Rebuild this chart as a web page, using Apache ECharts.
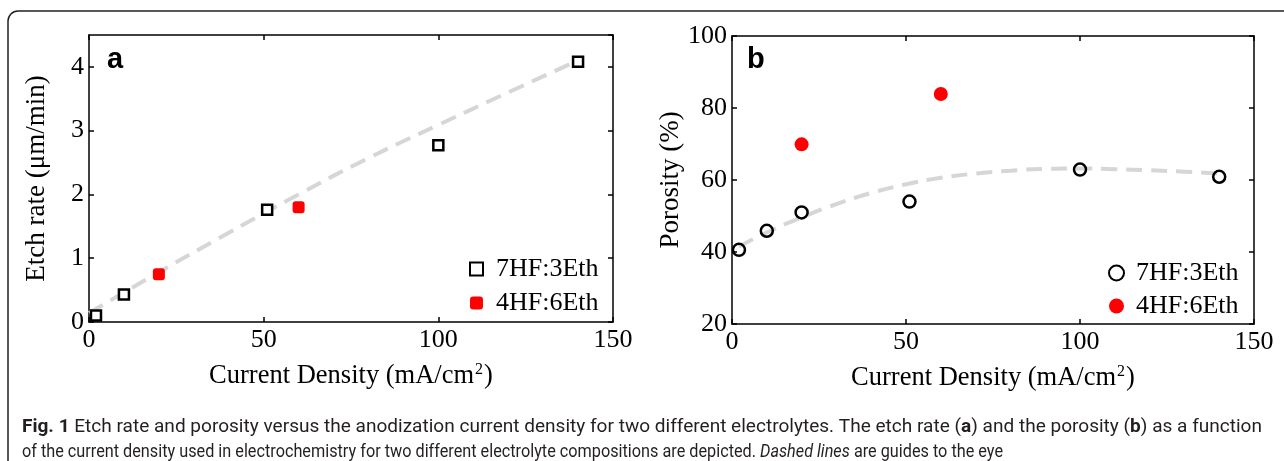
<!DOCTYPE html>
<html><head><meta charset="utf-8">
<script src="https://cdn.jsdelivr.net/npm/echarts@6/dist/echarts.min.js"></script>
<style>html,body{margin:0;padding:0;background:#fff}#c{width:1284px;height:461px}</style>
</head><body><div id="c"></div>
<script>
// ---- Data ----
const seriesNames = ['7HF:3Eth', '4HF:6Eth'];
// Panel a: etch rate (µm/min)
const etchX_7HF = [2, 10, 51, 100, 140];
const etchY_7HF = [0.10, 0.43, 1.76, 2.77, 4.08];
const etchX_4HF = [20, 60];
const etchY_4HF = [0.75, 1.80];
const etchGuideX = [0, 20, 40, 60, 80, 100, 120, 140];
const etchGuideY = [0.14, 0.78, 1.40, 2.00, 2.57, 3.09, 3.60, 4.10];
// Panel b: porosity (%)
const poroX_7HF = [2, 10, 20, 51, 100, 140];
const poroY_7HF = [40.6, 45.9, 51.0, 54.0, 62.9, 60.9];
const poroX_4HF = [20, 60];
const poroY_4HF = [69.9, 83.9];
const poroGuideX = [2, 10, 20, 30, 40, 50, 60, 70, 80, 90, 100, 110, 120, 130, 142];
const poroGuideY = [41.5, 45.4, 49.6, 53.3, 56.4, 58.8, 60.6, 61.8, 62.6, 63.1, 63.2, 63.0, 62.7, 62.3, 61.7];
// Axis ranges / ticks
const xTicks = {min: 0, max: 150, interval: 50};
const etchTicks = {min: 0, max: 4.5, interval: 1};
const poroTicks = {min: 20, max: 100, interval: 20};
// Caption text
const captionLine1 = [['b', 'Fig. 1'], ['n', ' Etch rate and porosity versus the anodization current density for two different electrolytes. The etch rate ('], ['b', 'a'], ['n', ') and the porosity ('], ['b', 'b'], ['n', ') as a function']];
const captionLine2 = [['n', 'of the current density used in electrochemistry for two different electrolyte compositions are depicted. '], ['i', 'Dashed lines'], ['n', ' are guides to the eye']];

const zip = (xs, ys) => xs.map((x, i) => [x, ys[i]]);
const SERIF = 'Liberation Serif';
const SANS = 'Liberation Sans';
const CAP_FONT = 'Roboto';
const CAP_SIZE = 18.5;
const axisLine = {onZero: false, lineStyle: {color: '#000', width: 1.5}};
const tick = {inside: true, length: 5, lineStyle: {color: '#000', width: 1.5}};
const lbl = {color: '#000', fontFamily: SERIF, fontSize: 26};

// measure caption lines to fit the target widths with a horizontal squeeze
const ctx = document.createElement('canvas').getContext('2d');
function capFont(k) {
  return (k === 'b' ? 'bold ' : k === 'i' ? 'italic ' : '') + CAP_SIZE + 'px ' + CAP_FONT;
}
function lineWidth(parts) {
  return parts.reduce((w, [k, t]) => { ctx.font = capFont(k); return w + ctx.measureText(t).width; }, 0);
}
function richText(parts) {
  return parts.map(([k, t]) => '{' + k + '|' + t + '}').join('');
}
const capRich = {
  n: {fontFamily: CAP_FONT, fontSize: CAP_SIZE, fill: '#231f20'},
  b: {fontFamily: CAP_FONT, fontSize: CAP_SIZE, fontWeight: 'bold', fill: '#231f20'},
  i: {fontFamily: CAP_FONT, fontSize: CAP_SIZE, fontStyle: 'italic', fill: '#231f20'}
};
const sx1 = 1240 / lineWidth(captionLine1);
const sx2 = 981 / lineWidth(captionLine2);

function xAxes(g) {
  return [
    {gridIndex: g, type: 'value', ...xTicks, position: 'bottom', axisLine, axisTick: tick,
     axisLabel: {...lbl, margin: 5}, splitLine: {show: false},
     name: '{t|Current Density (mA/cm}{s|2}{t|)}', nameLocation: 'middle', nameGap: 40,
     nameTextStyle: {rich: {
       t: {fontFamily: SERIF, fontSize: 26.5, color: '#000'},
       s: {fontFamily: SERIF, fontSize: 16, color: '#000', verticalAlign: 'top', padding: [0, 1, 12, 1]}
     }}},
    {gridIndex: g, type: 'value', ...xTicks, position: 'top', axisLine, axisTick: tick,
     axisLabel: {show: false}, splitLine: {show: false}}
  ];
}
function yAxes(g, t, name, gap) {
  return [
    {gridIndex: g, type: 'value', ...t, position: 'left', axisLine, axisTick: tick,
     axisLabel: {...lbl, margin: 5, showMaxLabel: Number.isInteger(t.max / t.interval)},
     splitLine: {show: false},
     name, nameLocation: 'middle', nameGap: gap,
     nameTextStyle: {fontFamily: SERIF, fontSize: 27, color: '#000'}},
    {gridIndex: g, type: 'value', ...t, position: 'right', axisLine, axisTick: tick,
     axisLabel: {show: false}, splitLine: {show: false}}
  ];
}

const guideStyle = {color: '#d6d6d6', width: 4, type: [16, 9]};
const chart = echarts.init(document.getElementById('c'), null, {renderer: 'canvas'});
chart.setOption({
  backgroundColor: '#fff',
  animation: false,
  grid: [
    {left: 89, right: 1284 - 613, top: 35, bottom: 461 - 322},
    {left: 732, right: 1284 - 1254, top: 36, bottom: 461 - 324}
  ],
  xAxis: [...xAxes(0), ...xAxes(1)],
  yAxis: [...yAxes(0, etchTicks, 'Etch rate (μm/min)', 39), ...yAxes(1, poroTicks, 'Porosity (%)', 45)],
  legend: [
    {data: ['a:' + seriesNames[0], 'a:' + seriesNames[1]], orient: 'vertical', left: 464, top: 251,
     itemWidth: 13, itemHeight: 13, itemGap: 8, formatter: n => n.slice(2),
     textStyle: {fontFamily: SERIF, fontSize: 26, color: '#000', lineHeight: 26, padding: [0, 0, 0, 8]}},
    {data: ['b:' + seriesNames[0], 'b:' + seriesNames[1]], orient: 'vertical', left: 1103, top: 255,
     itemWidth: 15, itemHeight: 15, itemGap: 7, formatter: n => n.slice(2),
     textStyle: {fontFamily: SERIF, fontSize: 26, color: '#000', lineHeight: 26, padding: [0, 0, 0, 7]}}
  ],
  graphic: [
    {type: 'rect', shape: {x: 8, y: 11, width: 1400, height: 600, r: 10}, silent: true,
     style: {fill: 'none', stroke: '#222', lineWidth: 1.5}},
    {type: 'text', left: 107, top: 45, style: {text: 'a', fontFamily: SANS, fontWeight: 'bold', fontSize: 29, fill: '#000'}},
    {type: 'text', left: 747, top: 45, style: {text: 'b', fontFamily: SANS, fontWeight: 'bold', fontSize: 29, fill: '#000'}},
    {type: 'text', x: 22, y: 418, scaleX: sx1, style: {text: richText(captionLine1), rich: capRich}},
    {type: 'text', x: 22, y: 443, scaleX: sx2, style: {text: richText(captionLine2), rich: capRich}}
  ],
  series: [
    {type: 'line', name: 'guideA', xAxisIndex: 0, yAxisIndex: 0, data: zip(etchGuideX, etchGuideY),
     smooth: true, symbol: 'none', lineStyle: guideStyle, z: 1, silent: true},
    {type: 'scatter', name: 'a:' + seriesNames[0], xAxisIndex: 0, yAxisIndex: 0, data: zip(etchX_7HF, etchY_7HF),
     symbol: 'rect', symbolSize: 10, itemStyle: {color: '#fff', borderColor: '#000', borderWidth: 2.5, opacity: 1}, z: 3},
    {type: 'scatter', name: 'a:' + seriesNames[1], xAxisIndex: 0, yAxisIndex: 0, data: zip(etchX_4HF, etchY_4HF),
     symbol: 'roundRect', symbolSize: 12, itemStyle: {color: '#ff0000', opacity: 1}, z: 3},
    {type: 'line', name: 'guideB', xAxisIndex: 2, yAxisIndex: 2, data: zip(poroGuideX, poroGuideY),
     smooth: true, symbol: 'none', lineStyle: guideStyle, z: 1, silent: true},
    {type: 'scatter', name: 'b:' + seriesNames[0], xAxisIndex: 2, yAxisIndex: 2, data: zip(poroX_7HF, poroY_7HF),
     symbol: 'circle', symbolSize: 12, itemStyle: {color: 'rgba(255,255,255,0)', borderColor: '#000', borderWidth: 2.5, opacity: 1}, z: 3},
    {type: 'scatter', name: 'b:' + seriesNames[1], xAxisIndex: 2, yAxisIndex: 2, data: zip(poroX_4HF, poroY_4HF),
     symbol: 'circle', symbolSize: 14, itemStyle: {color: '#ff0000', opacity: 1}, z: 3}
  ]
});
</script></body></html>
